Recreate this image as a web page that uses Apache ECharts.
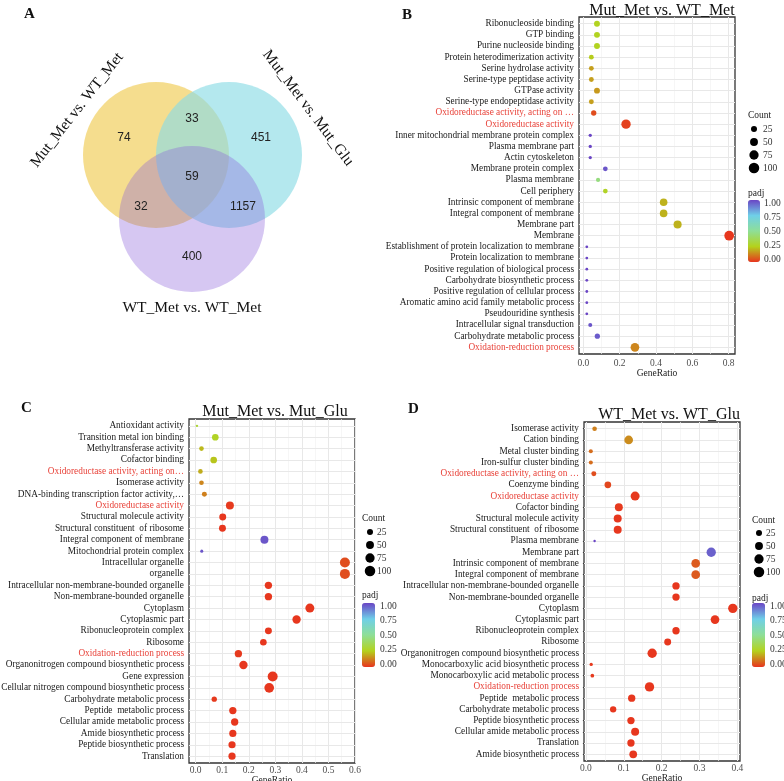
<!DOCTYPE html>
<html><head><meta charset="utf-8">
<script src="https://cdn.jsdelivr.net/npm/echarts@6/dist/echarts.min.js"></script>
<style>html,body{margin:0;padding:0;background:#fff}#c{width:784px;height:781px}</style>
</head><body><div id="c"></div><script>
// ---------------- DATA ----------------
const vennSetNames = ['Mut_Met vs. WT_Met', 'Mut_Met vs. Mut_Glu', 'WT_Met vs. WT_Met'];
const vennRegionKeys = ['A', 'AB', 'B', 'ABC', 'AC', 'BC', 'C'];
const vennCounts = [74, 33, 451, 59, 32, 1157, 400];

const bTitle = 'Mut_Met vs. WT_Met';
const bCategories = ['Ribonucleoside binding','GTP binding','Purine nucleoside binding','Protein heterodimerization activity','Serine hydrolase activity','Serine-type peptidase activity','GTPase activity','Serine-type endopeptidase activity','Oxidoreductase activity, acting on …','Oxidoreductase activity','Inner mitochondrial membrane protein complex','Plasma membrane part','Actin cytoskeleton','Membrane protein complex','Plasma membrane','Cell periphery','Intrinsic component of membrane','Integral component of membrane','Membrane part','Membrane','Establishment of protein localization to membrane','Protein localization to membrane','Positive regulation of biological process','Carbohydrate biosynthetic process','Positive regulation of cellular process','Aromatic amino acid family metabolic process','Pseudouridine synthesis','Intracellular signal transduction','Carbohydrate metabolic process','Oxidation-reduction process'];
const bRatio = [0.075,0.075,0.075,0.044,0.044,0.044,0.075,0.044,0.057,0.235,0.038,0.038,0.038,0.121,0.081,0.121,0.442,0.442,0.519,0.803,0.019,0.019,0.019,0.019,0.019,0.019,0.019,0.038,0.077,0.284];
const bCount = [24,24,24,14,14,14,24,14,18,76,4,4,4,13,9,13,46,46,54,84,2,2,2,2,2,2,2,8,17,64];
const bPadj = [0.26,0.26,0.26,0.24,0.17,0.17,0.16,0.17,0.04,0.02,1,1,1,0.97,0.45,0.27,0.2,0.2,0.2,0.005,1,1,1,1,1,1,1,0.97,0.96,0.13];
const bHighlighted = ['Oxidoreductase activity, acting on …','Oxidoreductase activity','Oxidation-reduction process'];
const bMajorTicks = [0, 0.2, 0.4, 0.6, 0.8];
const bMinorTicks = [0.1, 0.3, 0.5, 0.7];

const cTitle = 'Mut_Met vs. Mut_Glu';
const cCategories = ['Antioxidant activity','Transition metal ion binding','Methyltransferase activity','Cofactor binding','Oxidoreductase activity, acting on…','Isomerase activity','DNA-binding transcription factor activity,…','Oxidoreductase activity','Structural molecule activity','Structural constituent  of ribosome','Integral component of membrane','Mitochondrial protein complex','Intracellular organelle','organelle','Intracellular non-membrane-bounded organelle','Non-membrane-bounded organelle','Cytoplasm','Cytoplasmic part','Ribonucleoprotein complex','Ribosome','Oxidation-reduction process','Organonitrogen compound biosynthetic process','Gene expression','Cellular nitrogen compound biosynthetic process','Carbohydrate metabolic process','Peptide  metabolic process','Cellular amide metabolic process','Amide biosynthetic process','Peptide biosynthetic process','Translation'];
const cRatio = [0.005,0.074,0.022,0.068,0.018,0.022,0.033,0.129,0.102,0.101,0.259,0.023,0.562,0.562,0.274,0.274,0.43,0.38,0.274,0.255,0.161,0.18,0.29,0.277,0.07,0.14,0.147,0.14,0.137,0.137];
const cCount = [1,33,12,33,12,12,15,52,37,37,52,3,90,90,42,42,70,58,37,33,42,58,90,83,18,42,42,40,40,40];
const cPadj = [0.3,0.27,0.21,0.23,0.19,0.13,0.12,0.01,0.005,0.005,0.97,0.97,0.04,0.04,0.005,0.005,0.005,0.005,0.005,0.005,0.01,0.005,0.005,0.005,0.01,0.005,0.005,0.005,0.005,0.005];
const cHighlighted = ['Oxidoreductase activity, acting on…','Oxidoreductase activity','Oxidation-reduction process'];
const cMajorTicks = [0, 0.1, 0.2, 0.3, 0.4, 0.5, 0.6];
const cMinorTicks = [0.05, 0.15, 0.25, 0.35, 0.45, 0.55];

const dTitle = 'WT_Met vs. WT_Glu';
const dCategories = ['Isomerase activity','Cation binding','Metal cluster binding','Iron-sulfur cluster binding','Oxidoreductase activity, acting on …','Coenzyme binding','Oxidoreductase activity','Cofactor binding','Structural molecule activity','Structural constituent  of ribosome','Plasma membrane','Membrane part','Intrinsic component of membrane','Integral component of membrane','Intracellular non-membrane-bounded organelle','Non-membrane-bounded organelle','Cytoplasm','Cytoplasmic part','Ribonucleoprotein complex','Ribosome','Organonitrogen compound biosynthetic process','Monocarboxylic acid biosynthetic process','Monocarboxylic acid metabolic process','Oxidation-reduction process','Peptide  metabolic process','Carbohydrate metabolic process','Peptide biosynthetic process','Cellular amide metabolic process','Translation','Amide biosynthetic process'];
const dRatio = [0.023,0.113,0.013,0.013,0.021,0.058,0.13,0.087,0.084,0.084,0.023,0.331,0.29,0.29,0.238,0.238,0.388,0.341,0.238,0.216,0.175,0.014,0.017,0.168,0.121,0.072,0.119,0.13,0.119,0.125];
const dCount = [12,64,8,8,15,33,70,52,52,52,1,76,64,64,42,42,76,64,42,37,76,4,6,76,42,29,42,52,42,48];
const dPadj = [0.12,0.14,0.09,0.09,0.04,0.03,0.01,0.01,0.005,0.005,1,0.95,0.06,0.06,0.005,0.005,0.005,0.005,0.005,0.005,0.005,0.01,0.01,0.005,0.005,0.005,0.005,0.005,0.005,0.005];
const dHighlighted = ['Oxidoreductase activity, acting on …','Oxidoreductase activity','Oxidation-reduction process'];
const dMajorTicks = [0, 0.1, 0.2, 0.3, 0.4];
const dMinorTicks = [0.05, 0.15, 0.25, 0.35];

const countBreaks = [25, 50, 75, 100];
const padjBreaks = [1.00, 0.75, 0.50, 0.25, 0.00];

// ---------------- STYLE / LAYOUT ----------------
const SERIF = '"Liberation Serif","Times New Roman",serif';
const SANS = '"Liberation Sans",Arial,sans-serif';
const padjColors = ['#E8341E', '#B4D21C', '#8EDF98', '#6FCFE8', '#6A45C5'];
const RED_TEXT = '#e8433a';
const CAT_FONT = 9.3;
function sizeOf(count) { return 1.5 + 0.9 * Math.sqrt(count); }

const panels = [
  { letter:'B', letterPos:[397,3], title:bTitle, titlePos:[657,-2], cats:bCategories, ratio:bRatio, count:bCount, padj:bPadj, hi:bHighlighted,
    major:bMajorTicks, minor:bMinorTicks, fmt:v=>v.toFixed(1), grid:{left:579, top:17, width:156, height:337}, xMin:-0.024, xMax:0.835,
    xLabelMargin:4, nameGap:13, tickLen:3,
    countLeg:{x:748, y:110, cx:754, cy0:129, dy:13, lx:763}, padjLeg:{x:748, y:188, barX:748, barY:200, w:12, h:62, lx:764} },
  { letter:'C', letterPos:[16,396], title:cTitle, titlePos:[270,399], cats:cCategories, ratio:cRatio, count:cCount, padj:cPadj, hi:cHighlighted,
    major:cMajorTicks, minor:cMinorTicks, fmt:v=>v.toFixed(1), grid:{left:189, top:419, width:166, height:344}, xMin:-0.025, xMax:0.6,
    xLabelMargin:2, nameGap:9, tickLen:2,
    countLeg:{x:362, y:513, cx:370, cy0:532, dy:13, lx:377}, padjLeg:{x:362, y:590, barX:362, barY:603, w:13, h:64, lx:380} },
  { letter:'D', letterPos:[403,397], title:dTitle, titlePos:[664,402], cats:dCategories, ratio:dRatio, count:dCount, padj:dPadj, hi:dHighlighted,
    major:dMajorTicks, minor:dMinorTicks, fmt:v=>v.toFixed(1), grid:{left:584, top:422, width:156, height:339}, xMin:-0.005, xMax:0.407,
    xLabelMargin:2, nameGap:10, tickLen:2,
    countLeg:{x:752, y:515, cx:759, cy0:533, dy:13, lx:766}, padjLeg:{x:752, y:593, barX:752, barY:603, w:13, h:64, lx:770} }
];

const grids = [], xAxes = [], yAxes = [], series = [], visualMaps = [], titles = [], graphics = [];

panels.forEach((p, i) => {
  const n = p.cats.length;
  const idx = p.cats.map((c, j) => j);
  grids.push(Object.assign({ show:true, borderColor:'#333', borderWidth:1.3, backgroundColor:'#fff', containLabel:false, outerBoundsMode:'none' }, p.grid));
  xAxes.push({ type:'value', gridIndex:i, min:p.xMin, max:p.xMax,
    axisLine:{show:false}, splitLine:{show:false},
    axisTick:{show:true, length:p.tickLen, customValues:p.major, lineStyle:{color:'#333'}},
    axisLabel:{customValues:p.major, formatter:p.fmt, fontFamily:SERIF, fontSize:9.5, color:'#4d4d4d', margin:p.xLabelMargin},
    name:'GeneRatio', nameLocation:'middle', nameGap:p.nameGap, nameTextStyle:{fontFamily:SERIF, fontSize:9.5, color:'#222', verticalAlign:'top'} });
  yAxes.push({ type:'value', gridIndex:i, inverse:true, min:-0.6, max:n - 0.4,
    axisLine:{show:false}, splitLine:{show:false},
    axisTick:{show:true, length:3, customValues:idx, lineStyle:{color:'#333'}},
    axisLabel:{customValues:idx, margin:5, fontFamily:SERIF, fontSize:CAT_FONT, color:'#1a1a1a',
      formatter: v => { const name = p.cats[Math.round(v)]; return p.hi.indexOf(name) >= 0 ? '{r|' + name + '}' : name; },
      rich:{ r:{color:RED_TEXT, fontFamily:SERIF, fontSize:CAT_FONT} } } });
  const gridMarks = [];
  p.major.forEach(v => gridMarks.push({ xAxis:v }));
  p.minor.forEach(v => gridMarks.push({ xAxis:v, lineStyle:{color:'#f2f2f2', width:0.7, type:'solid'} }));
  idx.forEach(j => gridMarks.push({ yAxis:j }));
  series.push({ type:'scatter', xAxisIndex:i, yAxisIndex:i, z:3,
    data: p.cats.map((c, j) => [p.ratio[j], j, p.count[j], p.padj[j]]),
    symbolSize: v => sizeOf(v[2]), itemStyle:{opacity:1}, animation:false,
    markLine:{ silent:true, z:1, symbol:['none','none'], animation:false, label:{show:false}, emphasis:{disabled:true},
      lineStyle:{color:'#e8e8e8', width:1, type:'solid'}, data:gridMarks } });
  visualMaps.push({ type:'continuous', seriesIndex:i, dimension:3, min:0, max:1, calculable:false, realtime:false,
    inRange:{color:padjColors}, itemWidth:p.padjLeg.w, itemHeight:p.padjLeg.h, left:p.padjLeg.barX, top:p.padjLeg.barY,
    padding:0, text:null, showLabel:false, textStyle:{fontSize:0} });
  titles.push({ text:p.title, left:p.titlePos[0], top:p.titlePos[1], textAlign:'center',
    textStyle:{fontFamily:SERIF, fontSize:16, fontWeight:'normal', color:'#111'} });
  titles.push({ text:p.letter, left:p.letterPos[0], top:p.letterPos[1],
    textStyle:{fontFamily:SERIF, fontSize:15, fontWeight:'bold', color:'#111'} });
  graphics.push({ type:'text', left:p.countLeg.x, top:p.countLeg.y, style:{text:'Count', font:'9.5px ' + SERIF, fill:'#222'} });
  countBreaks.forEach((c, k) => {
    const cy = p.countLeg.cy0 + k * p.countLeg.dy;
    graphics.push({ type:'circle', shape:{cx:p.countLeg.cx, cy:cy, r:sizeOf(c) / 2}, style:{fill:'#000'} });
    graphics.push({ type:'text', x:p.countLeg.lx, y:cy, style:{text:String(c), font:'9.5px ' + SERIF, fill:'#333', verticalAlign:'middle'} });
  });
  graphics.push({ type:'text', left:p.padjLeg.x, top:p.padjLeg.y, style:{text:'padj', font:'9.5px ' + SERIF, fill:'#222'} });
  padjBreaks.forEach((b, k) => {
    const yy = p.padjLeg.barY + 3 + (p.padjLeg.h - 6) * (1 - b);
    graphics.push({ type:'text', x:p.padjLeg.lx, y:yy, style:{text:b.toFixed(2), font:'9.5px ' + SERIF, fill:'#333', verticalAlign:'middle'} });
  });
});

// Venn (panel A)
titles.push({ text:'A', left:19, top:2, textStyle:{fontFamily:SERIF, fontSize:15, fontWeight:'bold', color:'#111'} });
const vennCircles = [
  { cx:156, cy:155, r:73, color:'rgba(235,187,29,0.5)' },
  { cx:229, cy:155, r:73, color:'rgba(140,220,229,0.65)' },
  { cx:192, cy:219, r:73, color:'rgba(138,95,218,0.35)' }
];
vennCircles.forEach(c => graphics.push({ type:'circle', shape:{cx:c.cx, cy:c.cy, r:c.r}, style:{fill:c.color} }));
const vennLabelPos = { A:[124,138], AB:[192,119], B:[261,138], ABC:[192,177], AC:[141,207], BC:[243,207], C:[192,257] };
vennRegionKeys.forEach((k, i) => graphics.push({ type:'text', x:vennLabelPos[k][0], y:vennLabelPos[k][1],
  style:{text:String(vennCounts[i]), font:'12px ' + SANS, fill:'#222', align:'center', verticalAlign:'middle'} }));
const vennNamePos = [ {x:77, y:110, rot:52}, {x:308, y:108, rot:-53}, {x:192, y:308, rot:0} ];
vennSetNames.forEach((s, i) => graphics.push({ type:'text', x:vennNamePos[i].x, y:vennNamePos[i].y, rotation:vennNamePos[i].rot * Math.PI / 180,
  style:{text:s, font:'15.5px ' + SERIF, fill:'#111', align:'center', verticalAlign:'middle'} }));

const chart = echarts.init(document.getElementById('c'), null, {renderer:'canvas', width:784, height:781});
chart.setOption({
  animation:false, backgroundColor:'#fff',
  title:titles, grid:grids, xAxis:xAxes, yAxis:yAxes, series:series, visualMap:visualMaps,
  graphic:{elements:graphics}
});
</script></body></html>
